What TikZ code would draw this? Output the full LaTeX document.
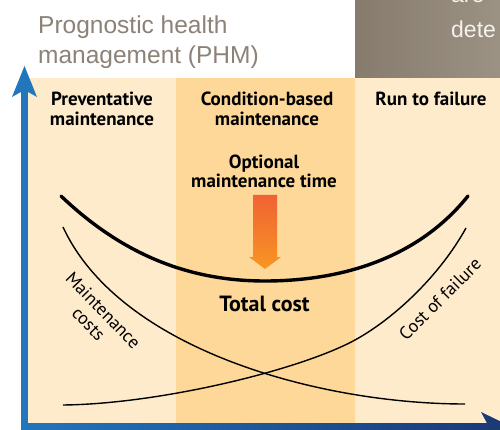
\documentclass[tikz,border=0pt]{standalone}
\usepackage{fontspec}
\setmainfont{Liberation Sans}
\newfontfamily\hdr{PT Sans}
\definecolor{panellight}{RGB}{254,235,204}
\definecolor{panelmid}{RGB}{253,216,152}
\definecolor{titlegray}{RGB}{140,130,120}
\definecolor{boxgrayL}{RGB}{134,123,109}
\definecolor{boxgrayR}{RGB}{156,146,131}
\definecolor{boxtext}{RGB}{245,241,235}
\definecolor{axisblue}{RGB}{33,118,188}
\definecolor{axisnavy}{RGB}{27,58,120}
\definecolor{arrowtop}{RGB}{240,98,52}
\definecolor{arrowbot}{RGB}{248,150,34}
\begin{document}
\begin{tikzpicture}[x=1pt,y=-1pt,
  hdrtext/.style={font=\hdr\bfseries\fontsize{19}{19.5}\selectfont, align=center, inner sep=0pt},
  curvelabel/.style={font=\hdr\fontsize{18}{20}\selectfont, align=center, inner sep=0pt},
  thincurve/.style={line width=1.4pt, black},
  thickcurve/.style={line width=3.4pt, black, line cap=round},
  titletext/.style={font=\fontsize{24.5}{30}\selectfont, text=titlegray, align=left, inner sep=0pt},
  boxtextstyle/.style={font=\fontsize{23}{27}\selectfont, text=boxtext, anchor=base west, inner sep=0pt}]
\useasboundingbox (0,0) rectangle (500,430);
\begin{scope}
\clip (0,0) rectangle (500,430);
\fill[white] (0,0) rectangle (500,430);
% grey box top right
\shade[left color=boxgrayL, right color=boxgrayR] (355,0) rectangle (500,78);
\node[boxtextstyle] (boxa) at (451,3) {are};
\node[boxtextstyle] (boxb) at (451,38) {dete};
% title
\node[titletext, anchor=north west] (title) at (38,15.5) {Prognostic health\\management (PHM)};
% panels
\fill[panellight] (28,78) rectangle (176,423);
\fill[panelmid] (176,78) rectangle (355,423);
\fill[panellight] (355,78) rectangle (500,423);
% headers
\node[hdrtext] (prev) at (102,109) {Preventative\\maintenance};
\node[hdrtext] (cbm) at (267,109) {Condition-based\\maintenance};
\node[hdrtext, anchor=base] (rtf) at (431,105.5) {Run to failure};
\node[hdrtext] (opt) at (264,171.5) {Optional\\maintenance time};
% orange arrow
\shade[top color=arrowtop, bottom color=arrowbot]
  (253,195) -- (277,195) -- (277,257) -- (281,257) -- (265,269) -- (249,257) -- (253,257) -- cycle;
% curves
\draw[thickcurve] (61,196) .. controls (130,262) and (200,281) .. (265,281)
  .. controls (335,281) and (415,262) .. (468,196);
\draw[thincurve] (63,227) .. controls (120,350) and (320,404) .. (465,404);
\draw[thincurve] (63,405) .. controls (160,404) and (300,370) .. (355,340)
  .. controls (395,318) and (440,275) .. (466,228);
% labels
\node[hdrtext, font=\hdr\bfseries\fontsize{22}{24}\selectfont, anchor=base] (total) at (264.5,311.5) {Total cost};
\node[curvelabel, rotate=-46] (mcost) at (96,317) {Maintenance\\costs};
\node[curvelabel, rotate=45] (fcost) at (440,299) {Cost of failure};
% axes
\shade[left color=axisblue, right color=axisnavy] (21,423) rectangle (492,432);
\fill[axisnavy] (512,427) -- (481,412) -- (489,427) -- (481,442) -- cycle;
\fill[axisblue] (21,90) rectangle (28,432);
\fill[axisblue] (24.5,66) -- (37,97) -- (24.5,90) -- (12,97) -- cycle;
\end{scope}
\end{tikzpicture}
\end{document}
